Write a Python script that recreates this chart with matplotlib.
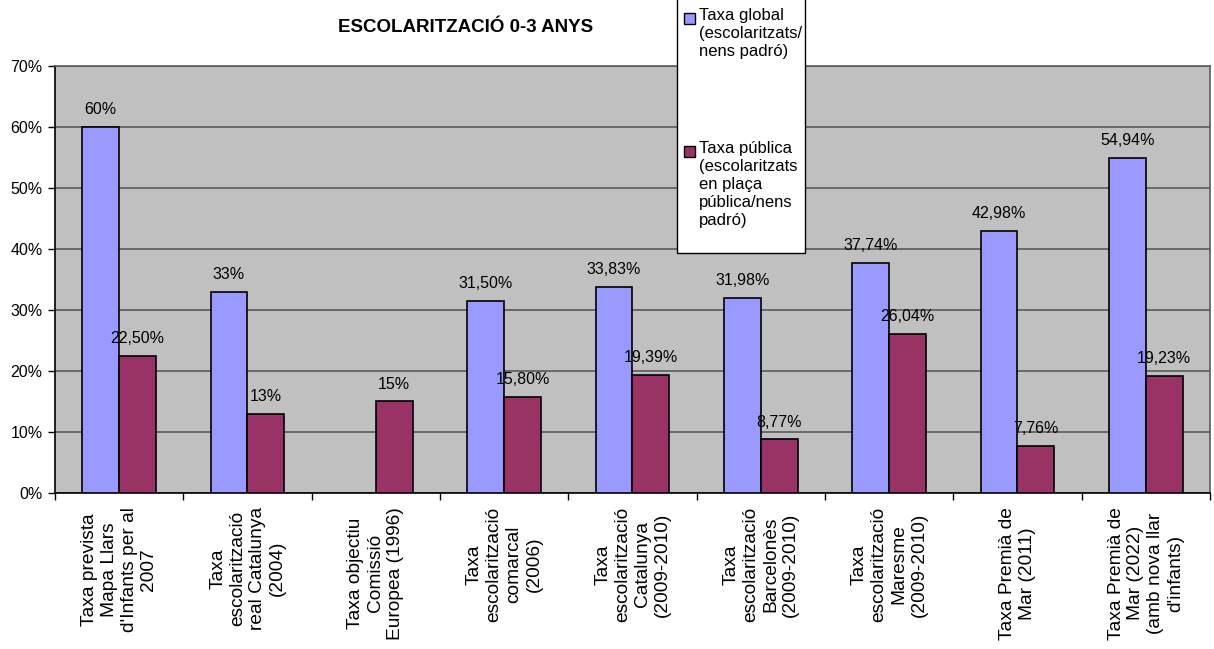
import matplotlib
matplotlib.use("Agg")
import matplotlib.pyplot as plt
from matplotlib.patches import Rectangle
import numpy as np

plt.rcParams['font.family'] = ['Liberation Sans', 'DejaVu Sans']

categories = [
    "Taxa prevista\nMapa Llars\nd'Infants per al\n2007",
    "Taxa\nescolarització\nreal Catalunya\n(2004)",
    "Taxa objectiu\nComissió\nEuropea (1996)",
    "Taxa\nescolarització\ncomarcal\n(2006)",
    "Taxa\nescolarització\nCatalunya\n(2009-2010)",
    "Taxa\nescolarització\nBarcelonès\n(2009-2010)",
    "Taxa\nescolarització\nMaresme\n(2009-2010)",
    "Taxa Premià de\nMar (2011)",
    "Taxa Premià de\nMar (2022)\n(amb nova llar\nd'infants)",
]
taxa_global = [60, 33, np.nan, 31.50, 33.83, 31.98, 37.74, 42.98, 54.94]
taxa_publica = [22.50, 13, 15, 15.80, 19.39, 8.77, 26.04, 7.76, 19.23]
labels_global = ["60%", "33%", "", "31,50%", "33,83%", "31,98%", "37,74%", "42,98%", "54,94%"]
labels_publica = ["22,50%", "13%", "15%", "15,80%", "19,39%", "8,77%", "26,04%", "7,76%", "19,23%"]
legend_global = "Taxa global\n(escolaritzats/\nnens padró)"
legend_publica = "Taxa pública\n(escolaritzats\nen plaça\npública/nens\npadró)"
title = "ESCOLARITZACIÓ 0-3 ANYS"
yticks = [0, 10, 20, 30, 40, 50, 60, 70]

c_global = "#9999FF"
c_publica = "#993366"

fig = plt.figure(figsize=(12.14, 6.49), dpi=100)
ax = fig.add_axes([0.0453, 0.2404, 0.9514, 0.6579])
ax.set_facecolor("#C0C0C0")

x = np.arange(len(categories))
w = 0.288
ax.bar(x - w / 2, taxa_global, w, color=c_global, edgecolor="black", linewidth=1.2, zorder=3)
ax.bar(x + w / 2, taxa_publica, w, color=c_publica, edgecolor="black", linewidth=1.2, zorder=3)

for xi, v, lab in zip(x - w / 2, taxa_global, labels_global):
    if lab and not np.isnan(v):
        ax.annotate(lab, (xi, v), xytext=(0, 7), textcoords="offset points",
                    ha="center", va="bottom", fontsize=11.5, zorder=5)
for xi, v, lab in zip(x + w / 2, taxa_publica, labels_publica):
    ax.annotate(lab, (xi, v), xytext=(0, 7), textcoords="offset points",
                ha="center", va="bottom", fontsize=11.5, zorder=5)

ax.set_xlim(-0.5, len(categories) - 0.5)
ax.set_ylim(0, 70)
ax.set_yticks(yticks)
ax.set_yticklabels([f"{t}%" for t in yticks], fontsize=11.5)
ax.yaxis.grid(True, color="#5a5a5a", linewidth=1.2, zorder=1)
ax.tick_params(axis="y", direction="out", length=5, width=1, pad=4)

ax.set_xticks(np.arange(-0.5, len(categories), 1.0))
ax.set_xticklabels([])
ax.tick_params(axis="x", direction="out", length=5, width=1)
for xi, cat in zip(x, categories):
    ax.annotate(cat, (xi, 0), xytext=(0, -10), textcoords="offset points",
                rotation=90, ha="center", va="top", multialignment="center",
                fontsize=13.8, linespacing=1.22, annotation_clip=False)

for s in ["left", "bottom"]:
    ax.spines[s].set_color("black")
    ax.spines[s].set_linewidth(1.2)
for s in ["top", "right"]:
    ax.spines[s].set_color("#5a5a5a")
    ax.spines[s].set_linewidth(1.2)

fig.text(466 / 1214, 1 - 27 / 649, title, ha="center", va="center", fontsize=13.5, fontweight="bold")

# legend box
lx0, lx1 = 677 / 1214, 805 / 1214
ly0 = 1 - 253 / 649
fig.patches.append(Rectangle((lx0, ly0), lx1 - lx0, 1.01 - ly0, transform=fig.transFigure,
                             facecolor="white", edgecolor="black", linewidth=1.0, zorder=10))
msz_w, msz_h = 11 / 1214, 11 / 649
for ycen, col, lab in [(18, c_global, legend_global), (151, c_publica, legend_publica)]:
    yc = 1 - ycen / 649
    fig.patches.append(Rectangle((684 / 1214, yc - msz_h / 2), msz_w, msz_h, transform=fig.transFigure,
                                 facecolor=col, edgecolor="black", linewidth=1.0, zorder=11))
    fig.text(699 / 1214, yc + 10 / 649, lab, ha="left", va="top", fontsize=12,
             linespacing=1.24, zorder=12)

fig.savefig("out.png", dpi=100)
